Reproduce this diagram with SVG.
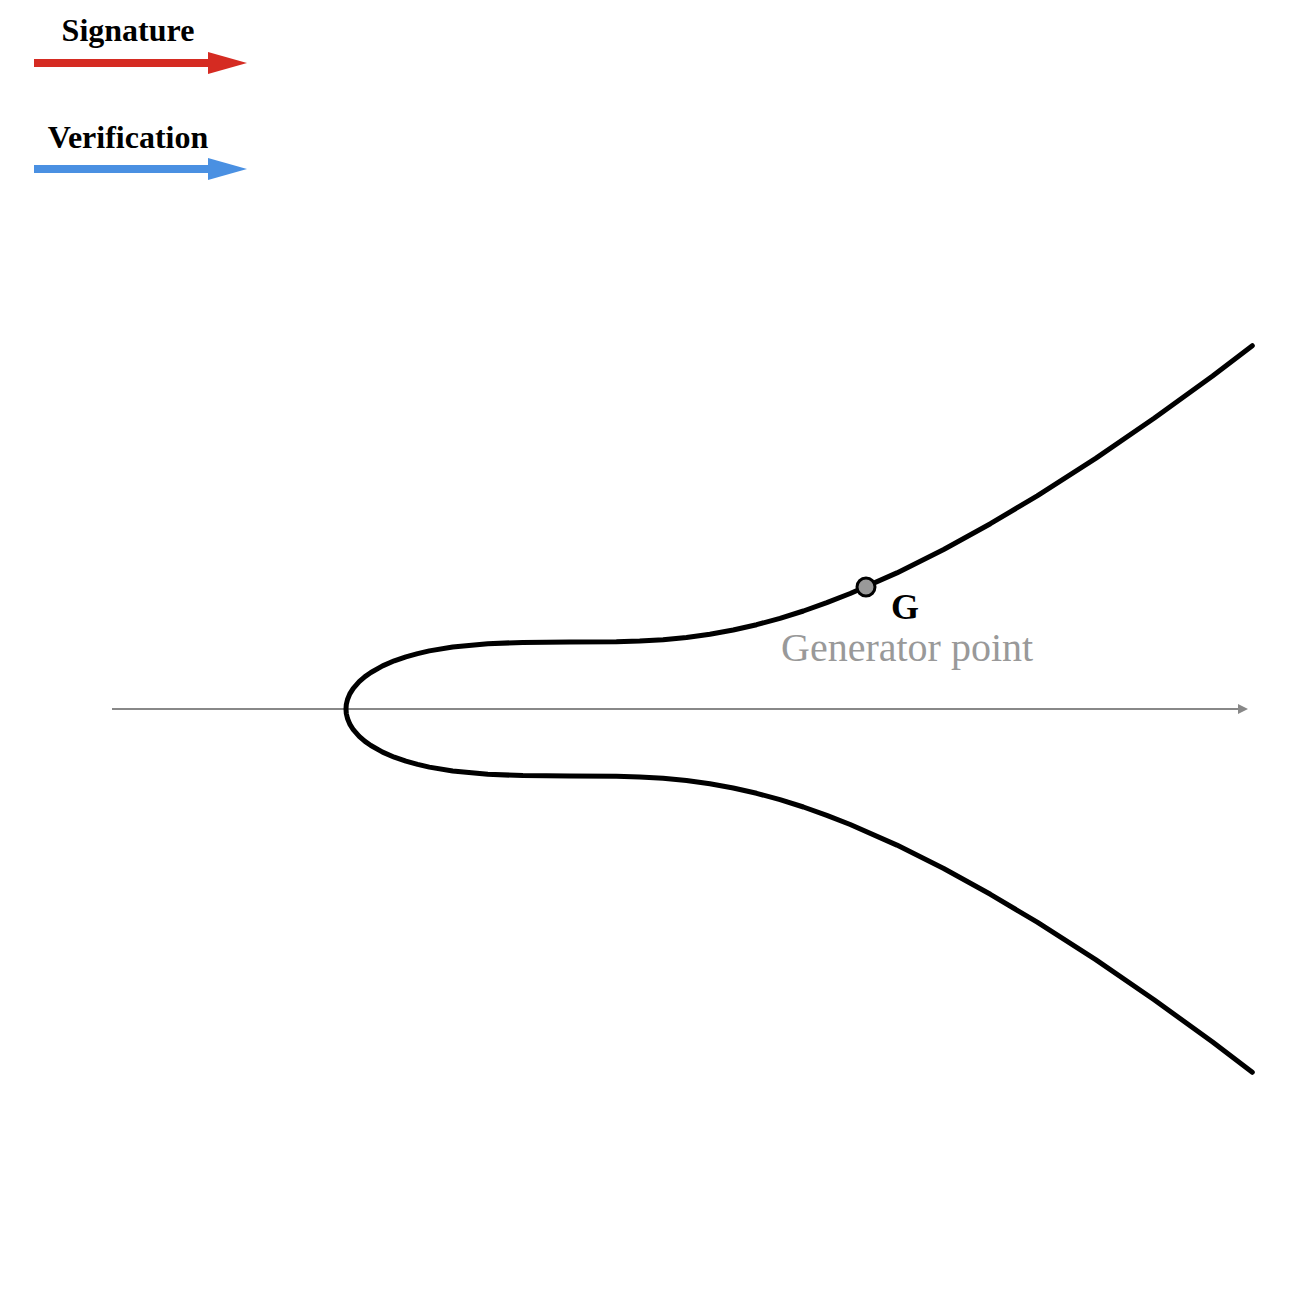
<svg xmlns="http://www.w3.org/2000/svg" width="1300" height="1306" viewBox="0 0 1300 1306">
<style>
.lbl{font-family:"Liberation Serif","Times New Roman",serif;font-weight:bold;fill:#000}
.curve{fill:none;stroke:#000;stroke-width:5;stroke-linecap:round;stroke-linejoin:round}
</style>
<defs>
<marker id="axhead" markerWidth="10" markerHeight="10" refX="8" refY="5" orient="auto" markerUnits="userSpaceOnUse">
<path d="M0,0 L10,5 L0,10 Z" fill="#888"/>
</marker>
</defs>
<rect width="1300" height="1306" fill="#fff"/>
<g id="legend">
<text class="lbl" x="128" y="41" font-size="32" text-anchor="middle">Signature</text>
<path d="M34,63 H212" stroke="#d52b22" stroke-width="8"/>
<path d="M208,52 L247,63 L208,74 Z" fill="#d52b22"/>
<text class="lbl" x="128" y="148" font-size="32" text-anchor="middle">Verification</text>
<path d="M34,169 H212" stroke="#4a90e2" stroke-width="8"/>
<path d="M208,158 L247,169 L208,180 Z" fill="#4a90e2"/>
</g>
<g id="connectors">
<line x1="112" y1="709" x2="1246" y2="709" stroke="#888" stroke-width="2" marker-end="url(#axhead)"/>
</g>
<g id="curve">
<path class="curve" d="M1252.3,345.7 L1212.6,375.9 L1154.1,418.3 L1095.7,458.4 L1037.2,495.8 L990.4,523.7 L943.7,549.5 L896.9,572.9 L850.2,593.5 L826.8,602.6 L803.4,611.0 L780,618.3 L756.6,624.7 L733.2,630.0 L709.9,634.3 L686.5,637.5 L663.1,639.7 L639.7,641.1 L616.4,641.8 L569.6,642.1 L522.8,642.4 L487.8,643.7 L452.7,647.0 L429.3,650.9 L417.6,653.6 L405.9,656.8 L394.3,660.8 L382.6,665.9 L370.9,672.5 L365.0,676.6 L359.2,681.7 L353.3,688.3 L349.8,693.9 L347.5,699.5 L346.3,704.5 L346.0,709 L346.3,713.5 L347.5,718.5 L349.8,724.1 L353.3,729.7 L359.2,736.3 L365.0,741.4 L370.9,745.5 L382.6,752.1 L394.3,757.2 L405.9,761.2 L417.6,764.4 L429.3,767.1 L452.7,771.0 L487.8,774.3 L522.8,775.6 L569.6,775.9 L616.4,776.2 L639.7,776.9 L663.1,778.3 L686.5,780.5 L709.9,783.7 L733.2,788.0 L756.6,793.3 L780,799.7 L803.4,807.0 L826.8,815.4 L850.2,824.5 L896.9,845.1 L943.7,868.5 L990.4,894.3 L1037.2,922.2 L1095.7,959.6 L1154.1,999.7 L1212.6,1042.1 L1252.3,1072.3"/>
</g>
<g id="G">
<circle cx="866" cy="587" r="9" fill="#999" stroke="#000" stroke-width="3"/>
<text class="lbl" x="891" y="619" font-size="36">G</text>
<text x="781" y="661" font-size="40" fill="#999" font-family="'Liberation Serif','Times New Roman',serif">Generator point</text>
</g>
</svg>
